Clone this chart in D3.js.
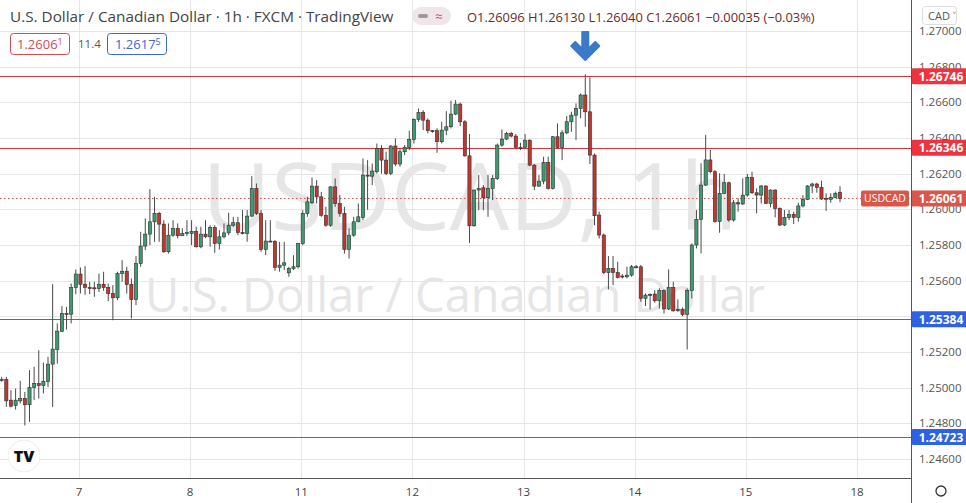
<!DOCTYPE html>
<html><head><meta charset="utf-8">
<script src="https://cdn.jsdelivr.net/npm/d3@7"></script>
<style>body{margin:0;background:#fff;}svg{display:block;font-family:"Open Sans","Noto Sans",sans-serif;}</style>
</head><body><svg id="c" width="966" height="503"></svg>
<script>
const opens=[1.25046,1.25046,1.24930,1.24900,1.24926,1.24939,1.24904,1.25001,1.25023,1.25012,1.25034,1.25132,1.25214,1.25315,1.25416,1.25412,1.25562,1.25637,1.25580,1.25562,1.25560,1.25556,1.25580,1.25562,1.25528,1.25504,1.25640,1.25653,1.25579,1.25494,1.25696,1.25794,1.25861,1.25930,1.25977,1.25917,1.25762,1.25855,1.25893,1.25852,1.25868,1.25865,1.25876,1.25790,1.25861,1.25846,1.25898,1.25809,1.25846,1.25868,1.25911,1.25925,1.25870,1.25865,1.25962,1.26117,1.25977,1.25775,1.25822,1.25820,1.25674,1.25687,1.25644,1.25668,1.25678,
1.25808,1.25977,1.26037,1.26130,1.26070,1.25967,1.25911,1.26126,1.26033,1.25977,1.25775,1.25855,1.25930,1.25954,1.26192,1.26186,1.26211,1.26341,1.26276,1.26201,1.26355,1.26254,1.26323,1.26347,1.26392,1.26504,1.26542,1.26500,1.26441,1.26441,1.26379,1.26444,1.26463,1.26534,1.26590,1.26491,1.26300,1.25908,1.26108,1.26121,1.26065,1.26117,1.26173,1.26360,1.26394,1.26426,1.26411,1.26347,1.26347,1.26388,1.26248,1.26130,1.26158,1.26263,1.26117,1.26407,1.26347,1.26429,1.26491,1.26528,1.26566,1.26641,1.26547,1.26304,
1.25968,1.25856,1.25645,1.25669,1.25645,1.25626,1.25622,1.25631,1.25678,1.25678,1.25501,1.25523,1.25525,1.25487,1.25544,1.25441,1.25562,1.25439,1.25439,1.25411,1.25544,1.25800,1.25944,1.26136,1.26277,1.26211,1.25931,1.26090,1.26149,1.25940,1.26037,1.26030,1.26080,1.26179,1.26093,1.26080,1.26131,1.26033,1.26108,1.26005,1.25912,1.25955,1.25972,1.25955,1.26019,1.26056,1.26131,1.26142,1.26123,1.26062,1.26056,1.26067,1.26096];
const highs=[1.25061,1.25061,1.24986,1.24995,1.25038,1.24976,1.25098,1.25117,1.25210,1.25141,1.25173,1.25580,1.25360,1.25457,1.25453,1.25584,1.25663,1.25674,1.25681,1.25594,1.25594,1.25640,1.25650,1.25584,1.25575,1.25650,1.25715,1.25678,1.25612,1.25738,1.25874,1.25949,1.26113,1.26070,1.25986,1.25939,1.25921,1.25939,1.25921,1.25893,1.25939,1.25939,1.25902,1.25902,1.25939,1.25911,1.25911,1.25883,1.25921,1.25981,1.25958,1.25958,1.25996,1.25996,1.26186,1.26145,1.25996,1.25939,1.25939,1.25827,1.25818,1.25818,1.25678,1.25743,1.25809,
1.25995,1.26070,1.26179,1.26164,1.26098,1.26014,1.26130,1.26173,1.26080,1.26014,1.25893,1.25958,1.26033,1.26285,1.26276,1.26257,1.26369,1.26360,1.26323,1.26360,1.26398,1.26341,1.26360,1.26441,1.26510,1.26566,1.26556,1.26510,1.26444,1.26454,1.26491,1.26551,1.26609,1.26613,1.26598,1.26500,1.26422,1.26111,1.26192,1.26136,1.26192,1.26192,1.26369,1.26448,1.26435,1.26435,1.26422,1.26373,1.26422,1.26392,1.26254,1.26192,1.26295,1.26295,1.26411,1.26482,1.26444,1.26523,1.26547,1.26594,1.26650,1.26757,1.26740,1.26313,
1.25987,1.25865,1.25738,1.25738,1.25706,1.25637,1.25678,1.25688,1.25688,1.25688,1.25529,1.25529,1.25547,1.25557,1.25551,1.25663,1.25594,1.25495,1.25450,1.25557,1.25809,1.25996,1.26258,1.26417,1.26333,1.26220,1.26202,1.26198,1.26155,1.26052,1.26062,1.26174,1.26198,1.26211,1.26118,1.26136,1.26134,1.26112,1.26112,1.26011,1.25996,1.25996,1.25987,1.26037,1.26080,1.26136,1.26149,1.26149,1.26161,1.26090,1.26090,1.26099,1.26130];
const lows=[1.25033,1.24892,1.24889,1.24877,1.24911,1.24788,1.24808,1.24930,1.24939,1.24967,1.25004,1.24892,1.25135,1.25313,1.25326,1.25360,1.25524,1.25528,1.25521,1.25524,1.25509,1.25537,1.25543,1.25485,1.25378,1.25491,1.25594,1.25528,1.25388,1.25463,1.25678,1.25771,1.25799,1.25818,1.25818,1.25756,1.25752,1.25846,1.25837,1.25850,1.25850,1.25799,1.25786,1.25782,1.25839,1.25790,1.25756,1.25775,1.25837,1.25855,1.25902,1.25855,1.25859,1.25818,1.25958,1.25968,1.25762,1.25743,1.25818,1.25655,1.25650,1.25659,1.25622,1.25659,1.25668,
1.25799,1.25958,1.26029,1.26033,1.25958,1.25902,1.25902,1.26014,1.25958,1.25752,1.25724,1.25846,1.25930,1.25939,1.25998,1.26136,1.26201,1.26200,1.26192,1.26192,1.26242,1.26239,1.26304,1.26332,1.26369,1.26491,1.26444,1.26426,1.26429,1.26317,1.26369,1.26416,1.26454,1.26528,1.26467,1.26295,1.25812,1.25902,1.25995,1.25995,1.25958,1.26052,1.26164,1.26351,1.26388,1.26403,1.26341,1.26332,1.26341,1.26242,1.26108,1.26126,1.26141,1.26111,1.26111,1.26341,1.26276,1.26422,1.26435,1.26388,1.26510,1.26463,1.26254,1.25911,
1.25837,1.25637,1.25551,1.25575,1.25613,1.25613,1.25613,1.25622,1.25669,1.25482,1.25458,1.25439,1.25476,1.25444,1.25416,1.25435,1.25426,1.25426,1.25401,1.25214,1.25501,1.25781,1.25753,1.26131,1.26202,1.25925,1.25869,1.26086,1.25931,1.25931,1.25987,1.26024,1.26071,1.26086,1.25977,1.26033,1.26030,1.26011,1.25955,1.25906,1.25906,1.25940,1.25918,1.25931,1.26011,1.26052,1.26090,1.26093,1.26052,1.25991,1.26037,1.26062,1.26040];
const closes=[1.25046,1.24926,1.24896,1.24930,1.24939,1.24904,1.25001,1.25023,1.25012,1.25036,1.25132,1.25216,1.25317,1.25416,1.25410,1.25562,1.25637,1.25580,1.25562,1.25560,1.25556,1.25580,1.25562,1.25528,1.25504,1.25640,1.25653,1.25579,1.25494,1.25696,1.25794,1.25861,1.25930,1.25977,1.25917,1.25762,1.25855,1.25893,1.25852,1.25865,1.25870,1.25876,1.25790,1.25861,1.25846,1.25898,1.25809,1.25846,1.25868,1.25911,1.25925,1.25870,1.25865,1.25962,1.26117,1.25977,1.25775,1.25822,1.25820,1.25674,1.25687,1.25700,1.25668,1.25678,1.25809,
1.25977,1.26042,1.26130,1.26070,1.25967,1.25911,1.26126,1.26033,1.25977,1.25775,1.25855,1.25930,1.25958,1.26192,1.26186,1.26214,1.26341,1.26276,1.26201,1.26355,1.26254,1.26323,1.26347,1.26392,1.26504,1.26542,1.26500,1.26441,1.26439,1.26379,1.26444,1.26463,1.26534,1.26590,1.26491,1.26300,1.25908,1.26108,1.26117,1.26065,1.26117,1.26173,1.26360,1.26394,1.26426,1.26411,1.26347,1.26345,1.26388,1.26248,1.26130,1.26158,1.26263,1.26117,1.26407,1.26347,1.26429,1.26491,1.26528,1.26566,1.26641,1.26547,1.26304,1.25964,
1.25856,1.25645,1.25669,1.25645,1.25618,1.25624,1.25631,1.25678,1.25676,1.25501,1.25519,1.25521,1.25487,1.25544,1.25441,1.25562,1.25431,1.25437,1.25411,1.25544,1.25800,1.25944,1.26136,1.26277,1.26211,1.25931,1.26090,1.26149,1.25940,1.26037,1.26030,1.26080,1.26179,1.26093,1.26080,1.26131,1.26033,1.26108,1.26005,1.25912,1.25955,1.25972,1.25955,1.26019,1.26056,1.26131,1.26142,1.26123,1.26058,1.26060,1.26067,1.26090,1.26061];
const dayIdx=[17,41,65,89,113,137,161,185];
const dayLabels=["7","8","11","12","13","14","15","18"];
const yTicks=[1.246,1.248,1.250,1.252,1.254,1.256,1.258,1.260,1.262,1.264,1.266,1.268,1.270];
const levels=[{v:1.26746,c:"#f0323f",lc:"#d9343c"},{v:1.26346,c:"#f0323f",lc:"#d9343c"},{v:1.25384,c:"#2e62e6",lc:"#3a6fd0"},{v:1.24723,c:"#2e62e6",lc:"#3a6fd0"}];
const lastPrice=1.26061;

const svg=d3.select("#c");
const W=966,H=503,plotR=911,plotB=478;
const x=d3.scaleLinear().domain([0,181]).range([1.7,840]);
const y=d3.scaleLinear().domain([1.246,1.270]).range([459,31]);
svg.append("g").selectAll("line").data(yTicks).join("line")
 .attr("x1",0).attr("x2",plotR).attr("y1",d=>Math.round(y(d))+.5).attr("y2",d=>Math.round(y(d))+.5).attr("stroke","#e6e6e6");
svg.append("g").selectAll("line").data(dayIdx).join("line")
 .attr("x1",d=>Math.round(x(d)-1.5)+.5).attr("x2",d=>Math.round(x(d)-1.5)+.5).attr("y1",0).attr("y2",plotB).attr("stroke","#e6e6e6");
svg.append("text").attr("x",470).attr("y",230).attr("text-anchor","middle").attr("font-size",94).attr("fill","#e6e6e6").text("USDCAD, 1h");
svg.append("text").attr("x",455).attr("y",312).attr("text-anchor","middle").attr("font-size",47).attr("fill","#e6e6e6").text("U.S. Dollar / Canadian Dollar");
levels.forEach(l=>svg.append("line").attr("x1",0).attr("x2",plotR).attr("y1",Math.round(y(l.v))+.5).attr("y2",Math.round(y(l.v))+.5).attr("stroke",l.lc).attr("stroke-width",1.1));
svg.append("line").attr("x1",0).attr("x2",plotR).attr("y1",y(lastPrice)).attr("y2",y(lastPrice)).attr("stroke","#d0504a").attr("stroke-dasharray","1.5,2.5");
const data=closes.map((c,i)=>({i,o:opens[i],h:highs[i],l:lows[i],c}));
const g=svg.append("g");
g.selectAll("line").data(data).join("line")
 .attr("x1",d=>x(d.i)).attr("x2",d=>x(d.i)).attr("y1",d=>y(d.h)).attr("y2",d=>y(d.l)).attr("stroke","#4a4a4a").attr("stroke-width",1);
g.selectAll("rect").data(data).join("rect")
 .attr("x",d=>x(d.i)-1.6).attr("width",3.2)
 .attr("y",d=>y(Math.max(d.o,d.c))).attr("height",d=>Math.max(1,Math.abs(y(d.o)-y(d.c))))
 .attr("fill",d=>d.c>=d.o?"#3f9a72":"#c2362f").attr("stroke","#2e2e2e").attr("stroke-width",0.6);
const ax=x(126);
svg.append("path").attr("d",`M${ax-3},32 h6 v17 l7,-7 l4,4 l-14,14 l-14,-14 l4,-4 l7,7 z`).attr("fill","#3a7ac8").attr("stroke","#3a7ac8").attr("stroke-linejoin","round").attr("stroke-width",2);
svg.append("line").attr("x1",plotR+.5).attr("x2",plotR+.5).attr("y1",0).attr("y2",H).attr("stroke","#555");
svg.append("line").attr("x1",0).attr("x2",plotR).attr("y1",plotB+.5).attr("y2",plotB+.5).attr("stroke","#555");
svg.append("g").selectAll("text").data(yTicks).join("text")
 .attr("x",919).attr("y",d=>y(d)+4).attr("font-size",11.5).attr("fill","#555").text(d=>d3.format(".5f")(d));
svg.append("g").selectAll("text").data(dayIdx).join("text")
 .attr("x",d=>x(d)-1.5).attr("y",496).attr("text-anchor","middle").attr("font-size",11.5).attr("fill","#444").text((d,i)=>dayLabels[i]);
levels.forEach(l=>{const yy=y(l.v);
 svg.append("rect").attr("x",plotR+1).attr("y",yy-8).attr("width",55).attr("height",16).attr("fill",l.c).attr("rx",1);
 svg.append("text").attr("x",plotR+30).attr("y",yy+4.5).attr("text-anchor","middle").attr("font-size",12).attr("font-weight","bold").attr("fill","#fff").text(d3.format(".5f")(l.v));});
{const yy=y(lastPrice);
 svg.append("rect").attr("x",plotR+1).attr("y",yy-8).attr("width",55).attr("height",16).attr("fill","#d9564a");
 svg.append("text").attr("x",plotR+30).attr("y",yy+4.5).attr("text-anchor","middle").attr("font-size",12).attr("font-weight","bold").attr("fill","#fff").text(d3.format(".5f")(lastPrice));
 svg.append("rect").attr("x",861).attr("y",yy-8).attr("width",48).attr("height",16).attr("fill","#d9564a").attr("rx",2);
 svg.append("text").attr("x",885).attr("y",yy+4).attr("text-anchor","middle").attr("font-size",10.5).attr("fill","#fff").text("USDCAD");}
svg.append("rect").attr("x",922.5).attr("y",6.5).attr("width",34).attr("height",18).attr("rx",3).attr("fill","#fff").attr("stroke","#ddd");
svg.append("text").attr("x",928).attr("y",20).attr("font-size",11).attr("fill","#555").text("CAD ˅");
svg.append("text").attr("x",10).attr("y",22).attr("font-size",15.3).attr("fill","#444").text("U.S. Dollar / Canadian Dollar · 1h · FXCM · TradingView");
svg.append("rect").attr("x",412).attr("y",7).attr("width",39).attr("height",18).attr("rx",9).attr("fill","#f0e6ea");
svg.append("rect").attr("x",418).attr("y",14).attr("width",10).attr("height",4).attr("rx",2).attr("fill","#9a9a9a");
svg.append("text").attr("x",435).attr("y",21).attr("font-size",13).attr("fill","#d04a6a").text("≈");
svg.append("text").attr("x",467).attr("y",22).attr("font-size",12.9).attr("fill","#6b2b2b").text("O1.26096  H1.26130  L1.26040  C1.26061  −0.00035 (−0.03%)");
svg.append("rect").attr("x",10.5).attr("y",33.5).attr("width",59).attr("height",21).attr("rx",3).attr("fill","#fff").attr("stroke","#d84a52");
svg.append("text").attr("x",17).attr("y",49).attr("font-size",13).attr("fill","#d84a52").text("1.2606").append("tspan").attr("font-size",9).attr("dy",-4).text("1");
svg.append("text").attr("x",78).attr("y",48).attr("font-size",11.5).attr("fill","#555").text("11.4");
svg.append("rect").attr("x",107.5).attr("y",33.5).attr("width",59).attr("height",21).attr("rx",3).attr("fill","#fff").attr("stroke","#3a66d8");
svg.append("text").attr("x",115).attr("y",49).attr("font-size",13).attr("fill","#3a66d8").text("1.2617").append("tspan").attr("font-size",9).attr("dy",-4).text("5");
svg.append("circle").attr("cx",24).attr("cy",456).attr("r",16).attr("fill","#fff").attr("stroke","#eee");
svg.append("text").attr("x",24).attr("y",462).attr("text-anchor","middle").attr("font-size",16).attr("font-weight","900").attr("fill","#111").text("TV");
svg.append("circle").attr("cx",941).attr("cy",491).attr("r",5).attr("fill","none").attr("stroke","#333").attr("stroke-width",1.3);
</script></body></html>
